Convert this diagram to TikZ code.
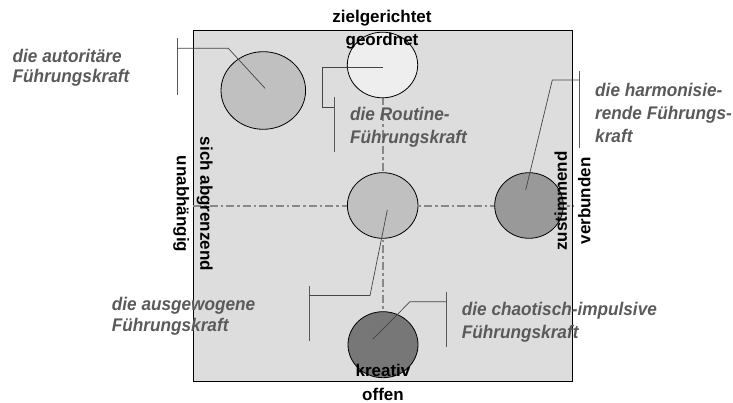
\documentclass[tikz,border=0pt]{standalone}
\usepackage{fontspec}
\setmainfont{Liberation Sans}
\newfontfamily\labfont[FakeStretch=0.94]{Liberation Sans}
\usetikzlibrary{shapes.geometric}
\definecolor{boxfill}{HTML}{DDDDDD}
\definecolor{cmid}{HTML}{C0C0C0}
\definecolor{clight}{HTML}{EEEEEE}
\definecolor{cdark}{HTML}{999999}
\definecolor{cdarker}{HTML}{777777}
\definecolor{axisgray}{HTML}{888888}
\definecolor{labgray}{HTML}{5A5A5A}
\definecolor{congray}{HTML}{444444}
\definecolor{bargray}{HTML}{595959}
\begin{document}
\begin{tikzpicture}[x=1pt,y=-1pt,
  blob/.style={ellipse, draw=black, line width=0.8pt, inner sep=0pt},
  axisline/.style={draw=axisgray, line width=2pt, dash pattern=on 8pt off 3pt on 2.5pt off 3pt},
  conline/.style={draw=congray, line width=0.7pt},
  barline/.style={draw=bargray, line width=0.9pt},
  lab/.style={font=\labfont\fontsize{18.3}{23}\selectfont\bfseries\itshape, text=labgray, align=left, inner sep=0pt, anchor=north west},
  axislab/.style={font=\fontsize{17}{23.5}\selectfont\bfseries, text=black, align=center, inner sep=0pt}]
\useasboundingbox (0,0) rectangle (733,403);
\node[draw=black, line width=1pt, fill=boxfill, minimum width=379pt, minimum height=351pt, anchor=north west, inner sep=0pt] (box) at (193,30) {};
% axes
\draw[axisline] (box.west) -- (box.east);
\coordinate (vtop) at (382.5,97);
\coordinate (vbot) at (382.5,312);
\draw[axisline] (vtop) -- (vbot);
% circles
\node[blob, fill=cmid, minimum width=84.6pt, minimum height=77.6pt] (auto) at (263.3,90.5) {};
\node[blob, fill=clight, minimum width=70.4pt, minimum height=65.6pt] (routine) at (382.5,65) {};
\node[blob, fill=cmid, minimum width=70.6pt, minimum height=65.6pt] (centre) at (382.7,205.5) {};
\node[blob, fill=cdark, minimum width=68.6pt, minimum height=65.6pt] (harm) at (529,205.5) {};
\node[blob, fill=cdarker, minimum width=70pt, minimum height=66pt] (chaos) at (383,344.7) {};
% bars
\coordinate (b1t) at (177,38); \coordinate (b1b) at (177,95);
\coordinate (b2t) at (334,97); \coordinate (b2b) at (334,152);
\coordinate (b3t) at (579,71); \coordinate (b3b) at (579,148);
\coordinate (b4t) at (309.3,286); \coordinate (b4b) at (309.3,341);
\coordinate (b5t) at (446.7,291.7); \coordinate (b5b) at (446.7,347.3);
\draw[barline] (b1t) -- (b1b);
\draw[barline] (b2t) -- (b2b);
\draw[barline] (b3t) -- (b3b);
\draw[barline] (b4t) -- (b4b);
\draw[barline] (b5t) -- (b5b);
% connectors
\coordinate (c1) at (177,48.3);
\draw[conline] (c1) -- (228.3,48.3) -- ([shift={(1.7,-2.2)}]auto.center);
\coordinate (c2) at (334,107.3);
\draw[conline] ([shift={(0.2,2.3)}]routine.center) -- (322.3,67.3) -- (322.3,107.3) -- (c2);
\coordinate (c3) at (579,80);
\draw[conline] (c3) -- (552.3,80) -- ([shift={(-3.3,-15.5)}]harm.center);
\coordinate (c4) at (309.3,295.5);
\draw[conline] (c4) -- (370,295.5) -- ([shift={(4.6,4.5)}]centre.center);
\coordinate (c5) at (446.7,301.7);
\draw[conline] (c5) -- (410,301.7) -- ([shift={(-10.3,-5.5)}]chaos.center);
% labels
\node[lab, font=\labfont\fontsize{18.3}{20}\selectfont\bfseries\itshape] (lauto) at (12.5,49.5) {die autoritäre\\Führungskraft};
\node[lab] (lroutine) at (350,107) {die Routine-\\Führungskraft};
\node[lab] (lharm) at (595,83.3) {die harmonisie-\\rende Führungs-\\kraft};
\node[lab, font=\labfont\fontsize{18.3}{21.5}\selectfont\bfseries\itshape] (lausg) at (111.7,296.7) {die ausgewogene\\Führungskraft};
\node[lab] (lchaos) at (461.7,301.7) {die chaotisch-impulsive\\Führungskraft};
% axis labels
\node[axislab] (ltop) at (382,29.5) {zielgerichtet\\geordnet};
\node[axislab] (lbot) at (383,382.5) {kreativ\\offen};
\node[axislab, rotate=-90] (lleft) at (193,204) {sich abgrenzend\\unabhängig};
\node[axislab, rotate=90] (lright) at (572.5,201) {zustimmend\\verbunden};
\end{tikzpicture}
\end{document}
